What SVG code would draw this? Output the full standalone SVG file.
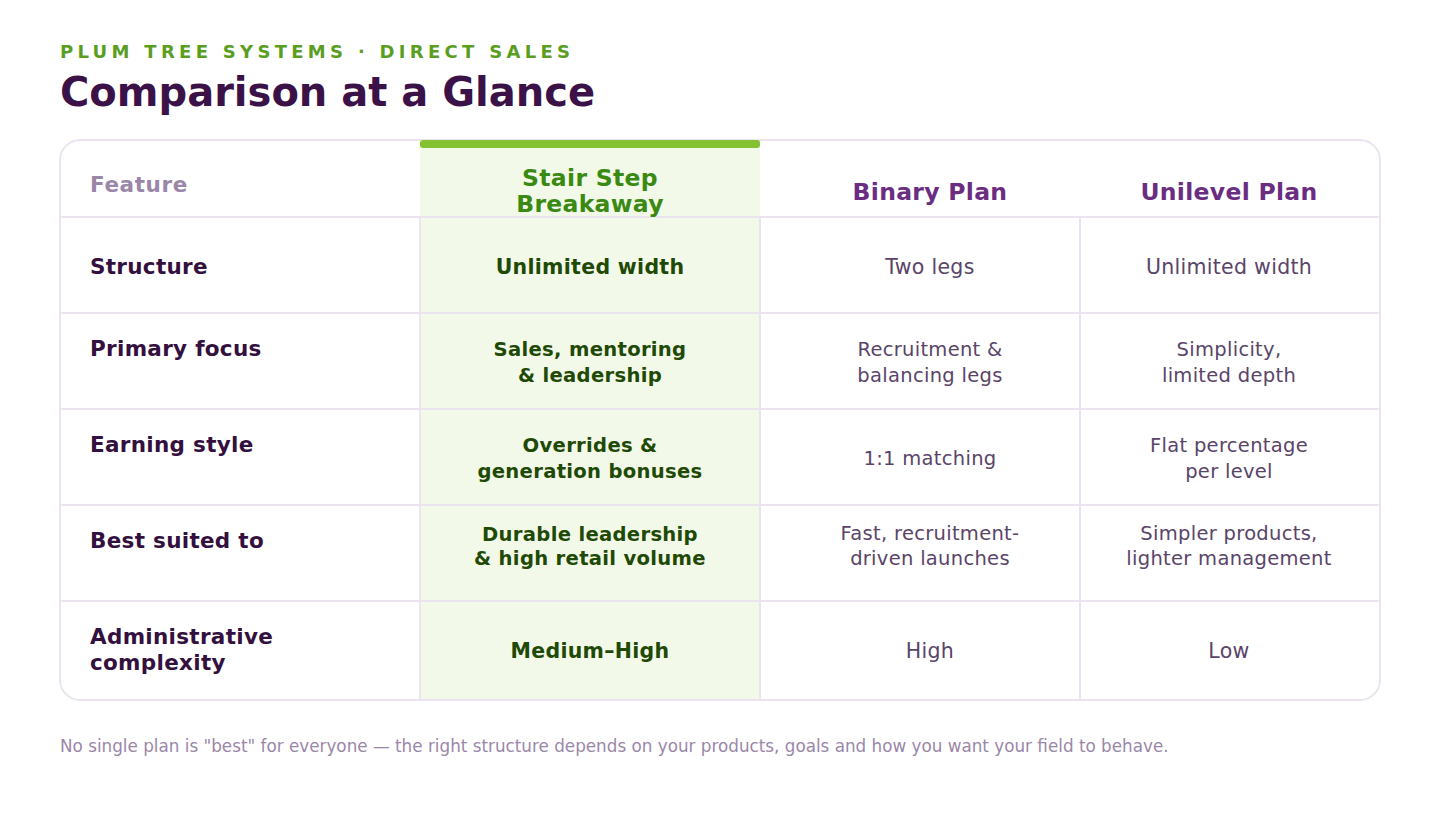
<svg xmlns="http://www.w3.org/2000/svg" width="1440" height="820" viewBox="0 0 1440 820">
<style>
text{font-family:"DejaVu Sans","Noto Sans",sans-serif}
.lab{font-size:21.5px;font-weight:bold;fill:#34103f;letter-spacing:0.3px}
.hi{font-size:19.6px;font-weight:bold;fill:#1f4a06;text-anchor:middle;letter-spacing:0.3px}
.c{font-size:20.5px;fill:#5a4468;text-anchor:middle;letter-spacing:0.3px}
.ch{font-size:19.5px;fill:#5a4468;text-anchor:middle;letter-spacing:0.3px}
.ln{stroke:#ebe4f0;stroke-width:2;fill:none}
.hd{font-size:23.5px;font-weight:bold;fill:#6a2d82;text-anchor:middle;letter-spacing:0.3px}
</style>
<rect width="1440" height="820" fill="#fff"/>
<text x="60" y="58" font-size="18" font-weight="bold" fill="#5a9e1f" letter-spacing="4.3">PLUM TREE SYSTEMS · DIRECT SALES</text>
<text x="60" y="106" font-size="40" font-weight="bold" fill="#3a1248">Comparison at a Glance</text>
<g id="card">
<rect x="60" y="140" width="1320" height="560" rx="20" fill="#fff" stroke="#ebe4f0" stroke-width="2"/>
<rect x="420" y="141" width="340" height="558" fill="#f3f9e9"/>
<rect x="420" y="140" width="340" height="8" rx="3" fill="#84c232"/>
</g>
<g id="grid">
<line class="ln" x1="60" y1="217" x2="1380" y2="217" stroke="#e2d9ea"/>
<line class="ln" x1="60" y1="313" x2="1380" y2="313"/>
<line class="ln" x1="60" y1="409" x2="1380" y2="409"/>
<line class="ln" x1="60" y1="505" x2="1380" y2="505"/>
<line class="ln" x1="60" y1="601" x2="1380" y2="601"/>
<line class="ln" x1="420" y1="217" x2="420" y2="699"/>
<line class="ln" x1="760" y1="217" x2="760" y2="699"/>
<line class="ln" x1="1080" y1="217" x2="1080" y2="699"/>
</g>
<g id="header">
<text x="90" y="192" font-size="21.5" font-weight="bold" fill="#9a87a8" letter-spacing="0.6">Feature</text>
<text x="590" y="186" class="hd" style="fill:#3a8a12">Stair Step</text>
<text x="590" y="212" class="hd" style="fill:#3a8a12">Breakaway</text>
<text x="930" y="200" class="hd">Binary Plan</text>
<text x="1229" y="200" class="hd">Unilevel Plan</text>
</g>
<g id="row1">
<text x="90" y="274" class="lab">Structure</text>
<text x="590" y="274" class="hi" style="font-size:20.5px">Unlimited width</text>
<text x="930" y="274" class="c">Two legs</text>
<text x="1229" y="274" class="c">Unlimited width</text>
</g>
<g id="row2">
<text x="90" y="356" class="lab">Primary focus</text>
<text x="590" y="356" class="hi">Sales, mentoring</text>
<text x="590" y="382" class="hi">&amp; leadership</text>
<text x="930" y="356" class="ch">Recruitment &amp;</text>
<text x="930" y="382" class="ch">balancing legs</text>
<text x="1229" y="356" class="ch">Simplicity,</text>
<text x="1229" y="382" class="ch">limited depth</text>
</g>
<g id="row3">
<text x="90" y="452" class="lab">Earning style</text>
<text x="590" y="452" class="hi">Overrides &amp;</text>
<text x="590" y="478" class="hi">generation bonuses</text>
<text x="930" y="465" class="ch">1:1 matching</text>
<text x="1229" y="452" class="ch">Flat percentage</text>
<text x="1229" y="478" class="ch">per level</text>
</g>
<g id="row4">
<text x="90" y="548" class="lab">Best suited to</text>
<text x="590" y="541" class="hi">Durable leadership</text>
<text x="590" y="565" class="hi">&amp; high retail volume</text>
<text x="930" y="540" class="ch">Fast, recruitment-</text>
<text x="930" y="565" class="ch">driven launches</text>
<text x="1229" y="540" class="ch">Simpler products,</text>
<text x="1229" y="565" class="ch">lighter management</text>
</g>
<g id="row5">
<text x="90" y="644" class="lab">Administrative</text>
<text x="90" y="670" class="lab">complexity</text>
<text x="590" y="658" class="hi" style="font-size:20.5px">Medium–High</text>
<text x="930" y="658" class="c">High</text>
<text x="1229" y="658" class="c">Low</text>
</g>
<text x="60" y="752" font-size="16.8" fill="#9a87a8">No single plan is "best" for everyone — the right structure depends on your products, goals and how you want your field to behave.</text>
</svg>
